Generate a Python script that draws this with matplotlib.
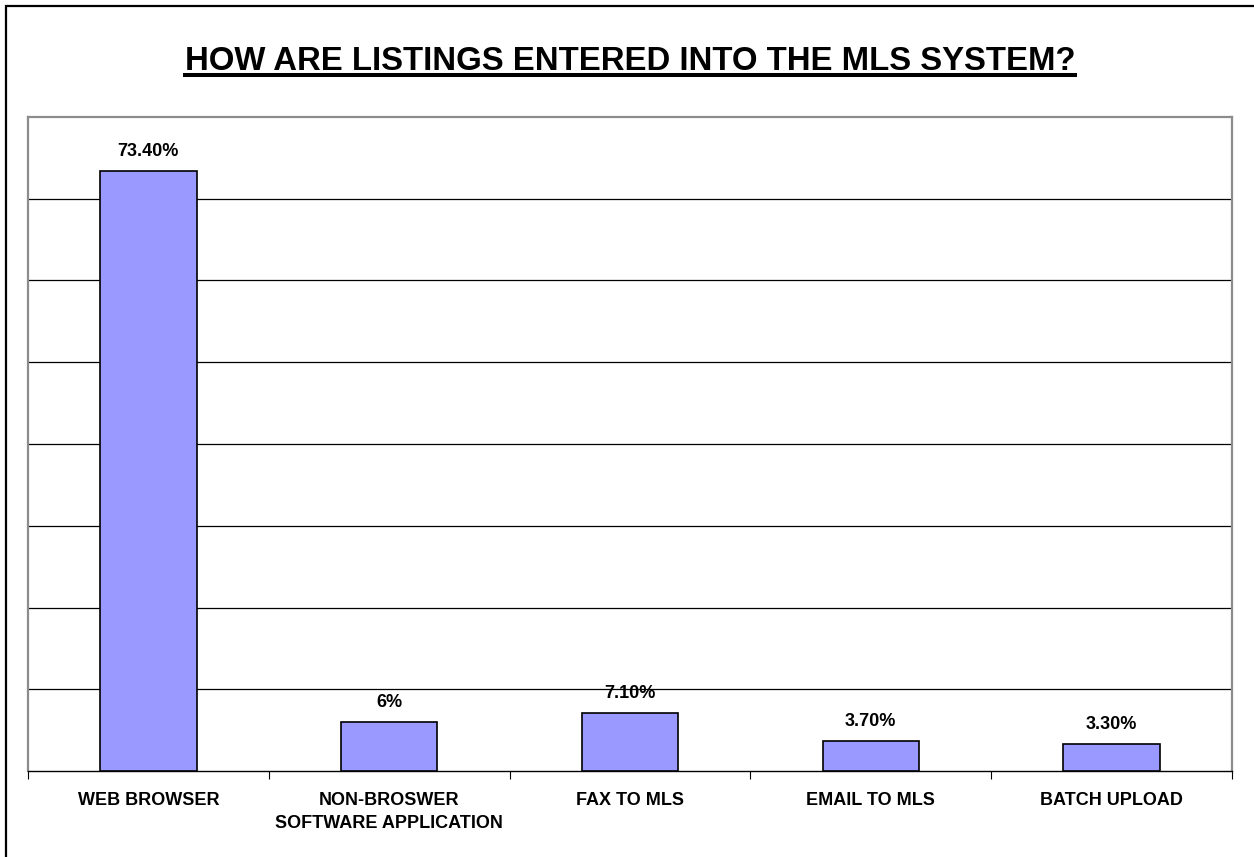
import numpy as np
import matplotlib.pyplot as plt
from matplotlib.patches import Rectangle

# Survey results: how listings get into the MLS
categories = ['WEB BROWSER', 'NON-BROSWER\nSOFTWARE APPLICATION', 'FAX TO MLS',
              'EMAIL TO MLS', 'BATCH UPLOAD']
shares = [73.4, 6.0, 7.1, 3.7, 3.3]
share_labels = ['73.40%', '6%', '7.10%', '3.70%', '3.30%']

plt.rcParams['font.family'] = ['Liberation Sans', 'DejaVu Sans']

fig = plt.figure(figsize=(12.54, 8.57), dpi=100)
ax = fig.add_axes([28 / 1254, 1 - 771 / 857, 1204 / 1254, 654 / 857])

# Outer frame of the chart
fig.patches.append(Rectangle((6 / 1254, -0.1), 2.0, 1.1 - 6 / 857,
                             transform=fig.transFigure, fill=False,
                             edgecolor='black', linewidth=1.6))

x = np.arange(len(categories))
ax.bar(x, shares, width=0.4, color='#9999FF', edgecolor='black',
       linewidth=1.2, zorder=3)

for xi, val, lab in zip(x, shares, share_labels):
    ax.annotate(lab, (xi, val), xytext=(0, 8), textcoords='offset points',
                ha='center', va='bottom', fontsize=13, fontweight='bold',
                zorder=4)

ax.set_xlim(-0.5, len(categories) - 0.5)
ax.set_ylim(0, 80)
ax.set_yticks(np.arange(10, 80, 10))
ax.set_yticklabels([])
ax.tick_params(axis='y', length=0)
ax.yaxis.grid(True, color='black', linewidth=0.9, zorder=0)

# Category labels at bar centres, tick marks at category boundaries
ax.set_xticks(x)
ax.set_xticklabels(categories, fontsize=13, fontweight='bold', linespacing=1.45)
ax.tick_params(axis='x', which='major', length=0, pad=15)
ax.set_xticks(np.arange(-0.5, len(categories), 1), minor=True)
ax.tick_params(axis='x', which='minor', length=6, color='black', width=0.8)

for side in ['left', 'top', 'right']:
    ax.spines[side].set_color('#8c8c8c')
    ax.spines[side].set_linewidth(1.6)
ax.spines['bottom'].set_color('black')
ax.spines['bottom'].set_linewidth(1.0)

title = fig.text(630 / 1254, 1 - 70 / 857, 'HOW ARE LISTINGS ENTERED INTO THE MLS SYSTEM?',
                 ha='center', va='baseline', fontsize=23.7, fontweight='bold')
# underline beneath the title
fig.canvas.draw()
bb = title.get_window_extent()
fig.add_artist(plt.Line2D([bb.x0 / 1254, bb.x1 / 1254], [1 - 75 / 857, 1 - 75 / 857],
                          transform=fig.transFigure, color='black', linewidth=2.9))

fig.savefig('out.png', dpi=100)
